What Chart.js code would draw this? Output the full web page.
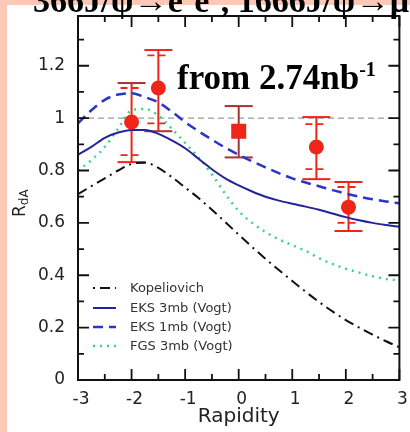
<!DOCTYPE html>
<html>
<head>
<meta charset="utf-8">
<script src="https://cdn.jsdelivr.net/npm/chart.js@4.4.0/dist/chart.umd.min.js"></script>
<style>
  html, body { margin: 0; padding: 0; background: #fbc9b5; }
  #wrap { width: 410px; height: 432px; }
</style>
</head>
<body>
<div id="wrap"><canvas id="chart-rda" width="410" height="432"></canvas></div>
<script>
// rapidity grid of the model curves
const rapidity = [-3, -2.75, -2.5, -2.25, -2, -1.75, -1.5, -1.25, -1, -0.75, -0.5, -0.25,
                  0, 0.25, 0.5, 0.75, 1, 1.25, 1.5, 1.75, 2, 2.25, 2.5, 2.75, 3];

const kopeliovich = [0.71, 0.74, 0.77, 0.80, 0.825, 0.83, 0.81, 0.775, 0.735, 0.695, 0.65, 0.603,
                     0.555, 0.508, 0.463, 0.42, 0.378, 0.337, 0.298, 0.262, 0.229, 0.20, 0.173, 0.148, 0.125];
const eks3mb = [0.86, 0.89, 0.925, 0.945, 0.955, 0.955, 0.94, 0.915, 0.885, 0.845, 0.805, 0.77,
                0.743, 0.72, 0.70, 0.685, 0.673, 0.662, 0.65, 0.636, 0.622, 0.61, 0.60, 0.592, 0.585];
const eks1mb = [0.98, 1.03, 1.07, 1.09, 1.095, 1.08, 1.06, 1.025, 0.985, 0.95, 0.918, 0.887,
                0.86, 0.835, 0.812, 0.79, 0.77, 0.754, 0.74, 0.725, 0.712, 0.70, 0.69, 0.682, 0.675];
const fgs3mb = [0.80, 0.84, 0.89, 0.96, 1.03, 1.035, 1.01, 0.96, 0.905, 0.85, 0.785, 0.71,
                0.645, 0.60, 0.565, 0.537, 0.515, 0.493, 0.465, 0.443, 0.425, 0.41, 0.396, 0.386, 0.38];

// J/psi R_dA points, with outer (sys) and inner (stat) bars
const jpsiY   = [-2, -1.5, 0, 1.45, 2.05];
const jpsiRdA = [0.985, 1.115, 0.95, 0.89, 0.66];
const sysHi   = [1.134, 1.26, 1.046, 1.004, 0.756];
const sysLo   = [0.832, 0.95, 0.85, 0.767, 0.569];
const statHi  = [1.115, 1.24, null, 0.977, 0.737];
const statLo  = [0.859, 0.98, null, 0.805, 0.60];

const xTicks = [-3, -2, -1, 0, 1, 2, 3];
const yTicks = [0, 0.2, 0.4, 0.6, 0.8, 1, 1.2];

const legendNames = ['Kopeliovich', 'EKS 3mb (Vogt)', 'EKS 1mb (Vogt)', 'FGS 3mb (Vogt)'];

// marker looks
const markStyle = ['circle', 'circle', 'rect', 'circle', 'circle'];
const darkCap = [[true, false], [false, true], [true, true], [false, false], [false, false]];
const RED = '#f0251a', DARK = '#a83232';

function curve(vals) {
	return rapidity.map((r, i) => ({ x: r, y: vals[i] }));
}

Chart.defaults.font.family = '"DejaVu Sans", sans-serif';
Chart.defaults.color = '#222';

const paper = {
	id: 'paper',
	beforeDraw(chart) {
		const ctx = chart.ctx;
		ctx.save();
		ctx.fillStyle = '#fbc9b5';
		ctx.fillRect(0, 0, chart.width, chart.height);
		ctx.fillStyle = '#fff';
		ctx.fillRect(7, 5, chart.width - 7, chart.height - 5);
		ctx.restore();
	}
};

const errorBars = {
	id: 'errorBars',
	beforeDatasetsDraw(chart) {
		const { ctx, chartArea: a, scales: { x, y } } = chart;
		ctx.save();
		// R = 1 reference
		const y1 = y.getPixelForValue(1);
		ctx.strokeStyle = '#9a9a9a';
		ctx.lineWidth = 1.2;
		ctx.setLineDash([6, 4]);
		ctx.beginPath();
		ctx.moveTo(a.left, y1);
		ctx.lineTo(a.right, y1);
		ctx.stroke();
		ctx.setLineDash([]);

		jpsiY.forEach((v, i) => {
			const px = x.getPixelForValue(v);
			const hi = y.getPixelForValue(sysHi[i]);
			const lo = y.getPixelForValue(sysLo[i]);
			const sq = markStyle[i] === 'rect';
			ctx.lineWidth = 2;
			ctx.strokeStyle = sq ? DARK : RED;
			ctx.beginPath();
			ctx.moveTo(px, hi);
			ctx.lineTo(px, lo);
			ctx.stroke();
			[[hi, darkCap[i][0]], [lo, darkCap[i][1]]].forEach(([py, dark]) => {
				ctx.strokeStyle = dark ? DARK : RED;
				ctx.beginPath();
				ctx.moveTo(px - 14, py);
				ctx.lineTo(px + 14, py);
				ctx.stroke();
			});
			if (statHi[i] !== null) {
				ctx.strokeStyle = RED;
				ctx.lineWidth = 1.8;
				ctx.setLineDash([7, 4]);
				[statHi[i], statLo[i]].forEach(s => {
					const py = y.getPixelForValue(s);
					ctx.beginPath();
					ctx.moveTo(px - 11, py);
					ctx.lineTo(px + 11, py);
					ctx.stroke();
				});
				ctx.setLineDash([]);
			}
		});
		ctx.restore();
	}
};

function minorTicks(major, max) {
	const out = [];
	for (let i = 0; i < major.length - 1; i++) out.push((major[i] + major[i + 1]) / 2);
	const step = major[1] - major[0];
	const last = major[major.length - 1] + step / 2;
	if (last <= max) out.push(last);
	return out;
}

const frame = {
	id: 'frame',
	afterDatasetsDraw(chart) {
		const { ctx, chartArea: a, scales: { x, y } } = chart;
		ctx.save();
		ctx.strokeStyle = '#111';
		ctx.lineWidth = 2;
		ctx.strokeRect(a.left, a.top, a.right - a.left, a.bottom - a.top);
		ctx.lineWidth = 1.8;
		ctx.beginPath();
		const xt = (v, len) => {
			const px = x.getPixelForValue(v);
			ctx.moveTo(px, a.bottom); ctx.lineTo(px, a.bottom - len);
			ctx.moveTo(px, a.top); ctx.lineTo(px, a.top + len);
		};
		const yt = (v, len) => {
			const py = y.getPixelForValue(v);
			ctx.moveTo(a.left, py); ctx.lineTo(a.left + len, py);
			ctx.moveTo(a.right, py); ctx.lineTo(a.right - len, py);
		};
		xTicks.forEach(v => xt(v, 11));
		minorTicks(xTicks, x.max).forEach(v => xt(v, 6));
		yTicks.forEach(v => yt(v, 11));
		minorTicks(yTicks, y.max).forEach(v => yt(v, 6));
		ctx.stroke();
		ctx.restore();
	}
};

function richText(ctx, parts, x, y, size) {
	parts.forEach(([txt, sup]) => {
		const fs = sup ? Math.round(size * 0.58) : size;
		ctx.font = 'bold ' + fs + 'px "Liberation Serif", serif';
		ctx.fillText(txt, x, sup ? y - size * 0.38 : y);
		x += ctx.measureText(txt).width;
	});
}

const labels = {
	id: 'labels',
	afterDraw(chart) {
		const ctx = chart.ctx;
		ctx.save();
		ctx.fillStyle = '#000';
		ctx.textBaseline = 'alphabetic';
		ctx.textAlign = 'left';

		// headline, cut by the top edge
		richText(ctx, [['366J/\u03c8\u2192e', false], ['+', true], ['e', false], ['\u2212', true],
			[', 1666J/\u03c8\u2192\u03bc', false], ['+', true], ['\u03bc', false], ['\u2212', true]], 33, 12, 34);

		// luminosity
		richText(ctx, [['from 2.74nb', false], ['-1', true]], 177, 89, 35);

		// y title R_dA
		ctx.fillStyle = '#222';
		ctx.translate(25, 201);
		ctx.rotate(-Math.PI / 2);
		ctx.font = '17px "DejaVu Sans"';
		ctx.fillText('R', -16, 0);
		const rw = ctx.measureText('R').width;
		ctx.font = '12px "DejaVu Sans"';
		ctx.fillText('dA', -16 + rw, 3);
		ctx.setTransform(1, 0, 0, 1, 0, 0);

		// legend
		const rows = [288, 308, 327, 346];
		ctx.font = '13px "DejaVu Sans"';
		ctx.textBaseline = 'middle';
		legendNames.forEach((name, k) => {
			const ds = chart.data.datasets[k + 1];
			const ly = rows[k];
			ctx.strokeStyle = ds.borderColor;
			ctx.lineWidth = ds.borderWidth;
			ctx.setLineDash(ds.borderDash || []);
			ctx.lineDashOffset = ds.legendDashOffset || 0;
			ctx.beginPath();
			ctx.moveTo(93, ly);
			ctx.lineTo(116, ly);
			ctx.stroke();
			ctx.setLineDash([]);
			ctx.fillStyle = '#333';
			ctx.fillText(name, 130, ly + 1);
		});
		ctx.restore();
	}
};

const config = {
	type: 'scatter',
	data: {
		datasets: [
			{
				label: 'J/psi',
				data: jpsiY.map((v, i) => ({ x: v, y: jpsiRdA[i] })),
				pointStyle: markStyle,
				pointRadius: markStyle.map(s => s === 'rect' ? 10.6 : 7.5),
				backgroundColor: RED,
				borderColor: RED,
				borderWidth: 0
			},
			{
				label: legendNames[0],
				data: curve(kopeliovich),
				showLine: true, pointRadius: 0, cubicInterpolationMode: 'monotone',
				borderColor: '#111', borderWidth: 2,
				borderDash: [10, 5, 2, 5], legendDashOffset: 15
			},
			{
				label: legendNames[1],
				data: curve(eks3mb),
				showLine: true, pointRadius: 0, cubicInterpolationMode: 'monotone',
				borderColor: '#23239c', borderWidth: 2
			},
			{
				label: legendNames[2],
				data: curve(eks1mb),
				showLine: true, pointRadius: 0, cubicInterpolationMode: 'monotone',
				borderColor: '#2b35c8', borderWidth: 2.5,
				borderDash: [10, 6]
			},
			{
				label: legendNames[3],
				data: curve(fgs3mb),
				showLine: true, pointRadius: 0, cubicInterpolationMode: 'monotone',
				borderColor: '#3ad48a', borderWidth: 2.5,
				borderDash: [2, 5]
			}
		]
	},
	options: {
		responsive: false,
		animation: false,
		events: [],
		layout: { padding: { top: 16, right: 9, bottom: 0, left: 0 } },
		scales: {
			x: {
				type: 'linear',
				min: -3, max: 3,
				afterBuildTicks: s => { s.ticks = xTicks.map(v => ({ value: v })); },
				afterFit: s => { s.height = 52; },
				grid: { display: false },
				border: { display: false },
				ticks: { padding: 1, labelOffset: 3, font: { size: 17 }, color: '#222' },
				title: { display: true, text: 'Rapidity', font: { size: 20 }, color: '#222', padding: { top: 0, bottom: 3 } }
			},
			y: {
				type: 'linear',
				min: 0, max: 1.39,
				afterBuildTicks: s => { s.ticks = yTicks.map(v => ({ value: v })); },
				afterFit: s => { s.width = 78; },
				grid: { display: false },
				border: { display: false },
				ticks: { padding: 5, font: { size: 17 }, color: '#222', callback: v => String(+v.toFixed(1)) }
			}
		},
		plugins: {
			legend: { display: false },
			tooltip: { enabled: false }
		}
	},
	plugins: [paper, errorBars, frame, labels]
};

const ctx = document.getElementById('chart-rda').getContext('2d');
window.chartRdA = new Chart(ctx, config);
</script>
</body>
</html>
